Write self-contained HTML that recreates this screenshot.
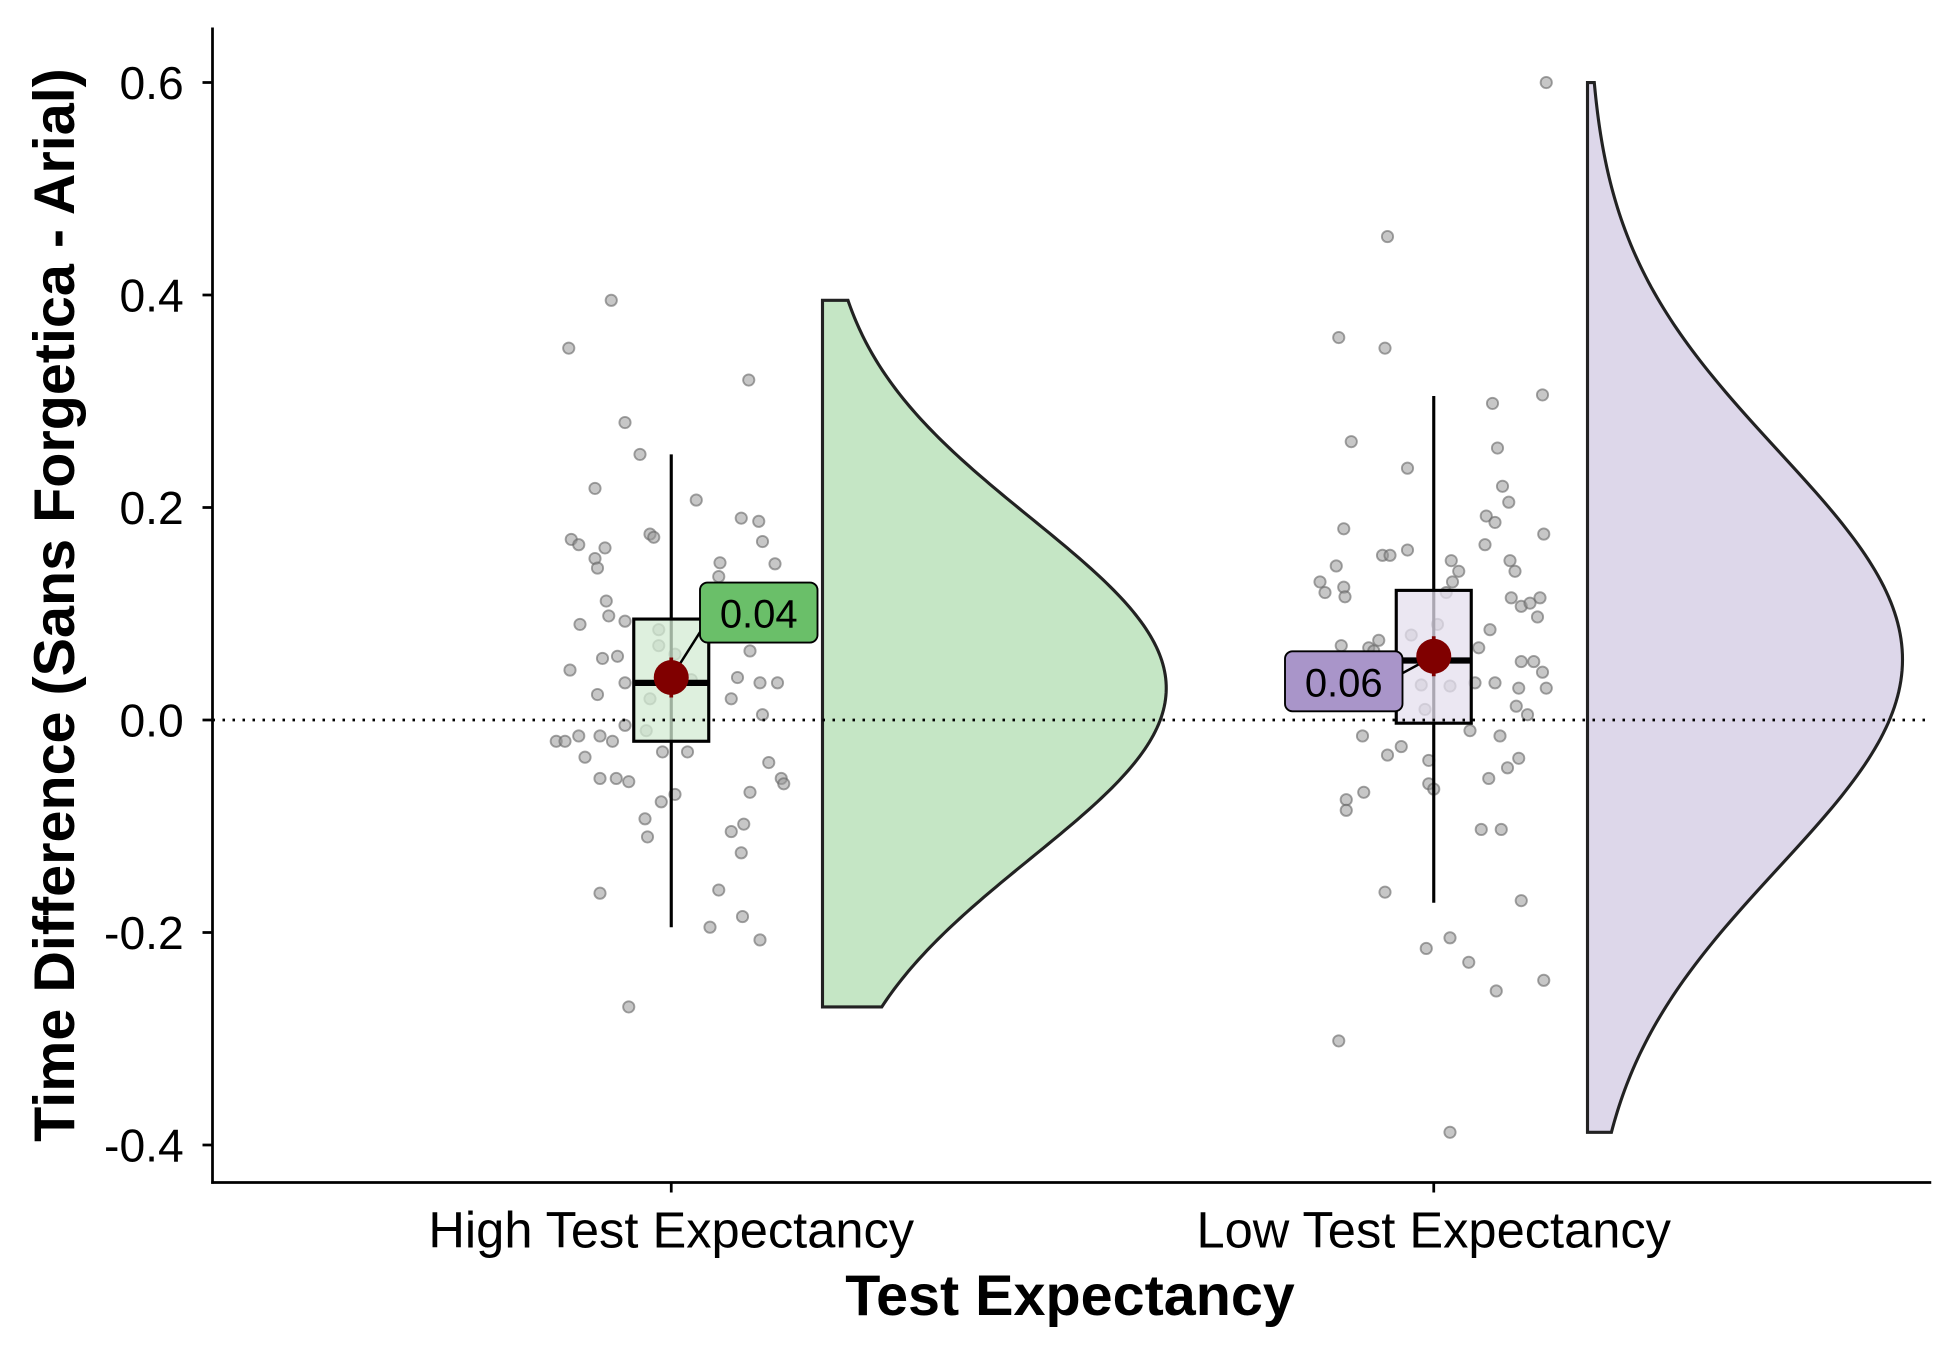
<!DOCTYPE html>
<html><head><meta charset="utf-8"><style>
html,body{margin:0;padding:0;background:#fff}
svg{display:block}
text{font-family:"Liberation Sans",Arial,sans-serif}
</style></head><body>
<svg id="chart" width="1950" height="1350" viewBox="0 0 1560 1080" xmlns="http://www.w3.org/2000/svg">
<g id="plot"></g>
<line x1="170" y1="576" x2="1545" y2="576" stroke="#000" stroke-width="2.2" stroke-dasharray="2,6"/>
<line x1="170" y1="22" x2="170" y2="947" stroke="#000" stroke-width="2.2"/>
<line x1="169" y1="946" x2="1545" y2="946" stroke="#000" stroke-width="2.2"/>
<g id="axes"></g>
<text x="856" y="1052" text-anchor="middle" font-size="46" font-weight="bold">Test Expectancy</text>
<text transform="translate(59,484) rotate(-90)" text-anchor="middle" font-size="46" font-weight="bold">Time Difference (Sans Forgetica - Arial)</text>
</svg>
<script>
const categories = ["High Test Expectancy","Low Test Expectancy"];
const yTicks = [0.6,0.4,0.2,0.0,-0.2,-0.4];
const yTickLabels = ["0.6","0.4","0.2","0.0","-0.2","-0.4"];
const means = [0.04,0.06];
const meanLabels = ["0.04","0.06"];
const medians = [0.035,0.056];
const q1 = [-0.02,-0.003];
const q3 = [0.095,0.122];
const whiskLo = [-0.195,-0.172];
const whiskHi = [0.25,0.305];
const densMean = [0.03,0.057];
const densSd = [0.16,0.196];
const densMin = [-0.27,-0.388];
const densMax = [0.395,0.6];
const highVals = [0.35,0.395,0.28,0.25,0.32,0.218,0.207,0.17,0.165,0.162,0.152,0.143,0.175,0.172,0.19,0.187,0.148,0.168,0.147,0.112,0.09,0.098,0.093,0.085,0.12,0.135,0.047,0.058,0.06,0.07,0.062,0.065,0.04,0.035,0.035,0.024,0.035,0.02,0.038,0.02,0.005,-0.02,-0.02,-0.015,-0.035,-0.015,-0.02,-0.005,-0.01,-0.03,-0.03,-0.055,-0.055,-0.058,-0.04,-0.055,-0.06,-0.07,-0.077,-0.093,-0.11,-0.068,-0.105,-0.098,-0.125,-0.163,-0.16,-0.195,-0.185,-0.207,-0.27];
const highJit = [-82,-48,-37,-25,62,-61,20,-80,-74,-53,-61,-59,-17,-14,56,70,39,73,83,-52,-73,-50,-37,-10,37,38,-81,-55,-43,-10,3,63,53,71,85,-59,-37,-17,16,48,73,-92,-85,-74,-69,-57,-47,-37,-20,-7,13,-57,-44,-34,78,88,90,3,-8,-21,-19,63,48,58,56,-57,38,31,57,71,-34];
const lowVals = [0.455,0.36,0.35,0.6,0.262,0.237,0.298,0.306,0.256,0.22,0.205,0.18,0.145,0.155,0.155,0.16,0.192,0.186,0.165,0.15,0.14,0.15,0.14,0.175,0.13,0.12,0.125,0.116,0.13,0.12,0.115,0.107,0.11,0.115,0.097,0.075,0.068,0.07,0.065,0.08,0.09,0.068,0.085,0.055,0.055,0.045,0.04,0.05,0.03,0.033,0.032,0.035,0.03,0.03,0.02,0.015,0.01,0.035,0.013,0.005,-0.015,-0.033,-0.025,-0.038,-0.01,-0.015,-0.036,-0.045,-0.055,-0.068,-0.075,-0.085,-0.06,-0.065,-0.103,-0.103,-0.162,-0.17,-0.215,-0.205,-0.228,-0.255,-0.245,-0.302,-0.388];
const lowJit = [-37,-76,-39,90,-66,-21,47,87,51,55,60,-72,-78,-41,-35,-21,42,49,41,14,20,61,65,88,-91,-87,-72,-71,15,10,62,70,77,85,83,-44,-52,-74,-48,-18,3,36,45,70,80,87,-78,-55,-34,-10,13,33,68,90,-60,-37,-7,49,66,75,-57,-37,-26,-4,29,53,68,59,44,-56,-70,-70,-4,0,38,54,-39,70,-6,13,28,50,88,-76,13];
const pointVals = [highVals, lowVals];
const pointJit = [highJit, lowJit];
const fills = ["#c5e6c5","#ddd7ea"];
const boxFills = ["#d3ebd3","#e4dfee"];
const labelFills = ["#6abf69","#a995c9"];

const NS="http://www.w3.org/2000/svg";
const plot=document.getElementById('plot'), axes=document.getElementById('axes');
const yS=v=>576-v*850;
const xS=i=>537+i*610;
function mk(tag,attrs,parent){const e=document.createElementNS(NS,tag);for(const k in attrs)e.setAttribute(k,attrs[k]);parent.appendChild(e);return e;}

yTicks.forEach((t,i)=>{
  const l=mk('line',{x1:162,x2:170,y1:yS(t),y2:yS(t),stroke:'#000','stroke-width':2.2},axes);
  
  
  const tx=mk('text',{x:147,y:yS(t)+13,'text-anchor':'end','font-size':37},axes);
  tx.textContent=yTickLabels[i];
  
  
});
categories.forEach((c,i)=>{
  const l=mk('line',{x1:xS(i),x2:xS(i),y1:946,y2:954,stroke:'#000','stroke-width':2.2},axes);
  
  
  const tx=mk('text',{x:xS(i),y:998,'text-anchor':'middle','font-size':40.5},axes);
  tx.textContent=c;
  
  
});

categories.forEach((c,i)=>{
  const cx=xS(i);
  const vx0 = i===0?658:1270;
  const maxW = i===0?275:252;
  let d=`M${vx0},${yS(densMin[i])}`;
  for(let k=0;k<=200;k++){
    const v=densMin[i]+(densMax[i]-densMin[i])*k/200;
    const w=maxW*Math.exp(-Math.pow(v-densMean[i],2)/(2*densSd[i]*densSd[i]));
    d+=` L${vx0+w},${yS(v)}`;
  }
  d+=` L${vx0},${yS(densMax[i])} Z`;
  const vp=mk('path',{d:d,fill:fills[i],stroke:'#222','stroke-width':2.5},plot);
  
  
  pointVals[i].forEach((v,j)=>{
    const p=mk('circle',{cx:cx+pointJit[i][j],cy:yS(v),r:4.5,fill:'#999','fill-opacity':0.55,stroke:'#666','stroke-opacity':0.6,'stroke-width':1.5},plot);
    
    
  });
  const wl=mk('line',{x1:cx,x2:cx,y1:yS(whiskHi[i]),y2:yS(whiskLo[i]),stroke:'#000','stroke-width':2.5},plot);
  
  
  const bx=mk('rect',{x:cx-30,y:yS(q3[i]),width:60,height:yS(q1[i])-yS(q3[i]),fill:boxFills[i],'fill-opacity':0.75,stroke:'#000','stroke-width':2.5},plot);
  
  
  const md=mk('line',{x1:cx-30,x2:cx+30,y1:yS(medians[i]),y2:yS(medians[i]),stroke:'#000','stroke-width':5},plot);
  
  
  const lx = i===0? cx+23 : cx-119;
  const ly = i===0? yS(means[i])-76 : yS(means[i])-4;
  const cn=mk('line',{x1:cx,y1:yS(means[i]),x2:i===0?lx+10:lx+82,y2:ly+24,stroke:'#000','stroke-width':2},plot);
  
  
  const mc=mk('circle',{cx:cx,cy:yS(means[i]),r:14,fill:'#800000'},plot);
  
  
  const eb=mk('line',{x1:cx,x2:cx,y1:yS(means[i])-16,y2:yS(means[i])+16,stroke:'#800000','stroke-width':3},plot);
  
  
  const lr=mk('rect',{x:lx,y:ly,width:94,height:48,rx:6,fill:labelFills[i],stroke:'#000','stroke-width':1.5},plot);
  
  
  const lt=mk('text',{x:lx+47,y:ly+36,'text-anchor':'middle','font-size':32},plot);
  lt.textContent=meanLabels[i];
  
  
});
</script>
</body></html>
